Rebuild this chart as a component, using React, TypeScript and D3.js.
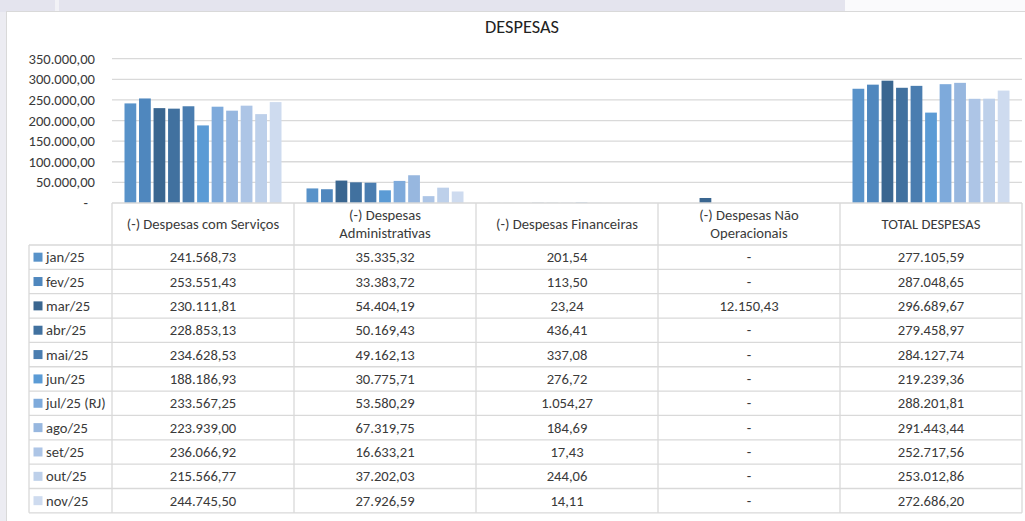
import React from 'react';
import * as d3 from 'd3';

const months = ['jan/25', 'fev/25', 'mar/25', 'abr/25', 'mai/25', 'jun/25', 'jul/25 (RJ)', 'ago/25', 'set/25', 'out/25', 'nov/25'];
const monthColors = ['#5892c9', '#4f87be', '#3a6690', '#41719f', '#4a7db0', '#5b9bd5', '#7eaadb', '#97b7df', '#adc5e6', '#bdd0ea', '#cedbef'];
const categories = ['(-) Despesas com Serviços', '(-) Despesas Administrativas', '(-) Despesas Financeiras', '(-) Despesas Não Operacionais', 'TOTAL DESPESAS'];
const categoryLines = [['(-) Despesas com Serviços'], ['(-) Despesas', 'Administrativas'], ['(-) Despesas Financeiras'], ['(-) Despesas Não', 'Operacionais'], ['TOTAL DESPESAS']];

const servicos = [241568.73, 253551.43, 230111.81, 228853.13, 234628.53, 188186.93, 233567.25, 223939.0, 236066.92, 215566.77, 244745.5];
const administrativas = [35335.32, 33383.72, 54404.19, 50169.43, 49162.13, 30775.71, 53580.29, 67319.75, 16633.21, 37202.03, 27926.59];
const financeiras = [201.54, 113.5, 23.24, 436.41, 337.08, 276.72, 1054.27, 184.69, 17.43, 244.06, 14.11];
const naoOperacionais = [0, 0, 12150.43, 0, 0, 0, 0, 0, 0, 0, 0];
const total = [277105.59, 287048.65, 296689.67, 279458.97, 284127.74, 219239.36, 288201.81, 291443.44, 252717.56, 253012.86, 272686.2];
const seriesByCategory = [servicos, administrativas, financeiras, naoOperacionais, total];

const yTicks = [0, 50000, 100000, 150000, 200000, 250000, 300000, 350000];
const title = 'DESPESAS';

const locale = d3.formatLocale({ decimal: ',', thousands: '.', grouping: [3], currency: ['', ''] });
const fmt2 = locale.format(',.2f');
const fmt = (v: number) => (v === 0 ? '-' : fmt2(v));

export default function App() {
  const W = 1025, H = 521;
  const font = 'Calibri, Carlito, Lato, sans-serif';
  const fs = 14.6;
  const textColor = '#3a3a3a';
  const plotLeft = 112, plotRight = 1022;
  const y0 = 203, yTop = 58.7;
  const headerBottom = 245;
  const rowH = 24.35;
  const legendLeft = 29;
  const gridColor = '#d9d9d9';

  const x = d3.scaleBand<string>().domain(categories).range([plotLeft, plotRight]).padding(0);
  const inner = d3.scaleBand<string>().domain(months).range([12.5, x.bandwidth() - 12.5]).paddingInner(0.19);
  const y = d3.scaleLinear().domain([0, 350000]).range([y0, yTop]);

  const tableBottom = headerBottom + rowH * months.length;
  const colEdges = [plotLeft, ...categories.map((c) => (x(c) as number) + x.bandwidth())];

  return (
    <svg width={W} height={H} style={{ position: 'absolute', left: 0, top: 0 }} fontFamily={font}>
      <rect x={0} y={0} width={W} height={H} fill="#ececf2" />
      <rect x={0} y={0} width={845} height={12} fill="#e4e4ee" />
      <rect x={55} y={0} width={4} height={12} fill="#f2f2f6" />
      <rect x={845} y={0} width={180} height={12} fill="#fafafc" />
      <rect x={6.5} y={11.5} width={W} height={H} fill="#ffffff" stroke="#d9d9d9" strokeWidth={1} />

      <text x={522} y={27} dy="0.35em" textAnchor="middle" fontSize={18.3} fill="#222">{title}</text>

      {yTicks.map((t) => (
        <g key={t}>
          {t > 0 && <line x1={plotLeft} x2={plotRight} y1={y(t)} y2={y(t)} stroke={gridColor} strokeWidth={1.3} />}
          <text x={t === 0 ? 88 : 95} y={y(t)} dy="0.35em" textAnchor="end" fontSize={fs} fill={textColor}>{t === 0 ? '-' : fmt(t)}</text>
        </g>
      ))}

      {categories.map((c, ci) => (
        <g key={c} transform={`translate(${x(c)},0)`}>
          {months.map((m, mi) => {
            const v = seriesByCategory[ci][mi];
            return (
              <rect key={m} x={inner(m)} y={y(v)} width={inner.bandwidth()} height={y0 - y(v)} fill={monthColors[mi]} />
            );
          })}
        </g>
      ))}

      <line x1={plotLeft} x2={plotRight} y1={y0} y2={y0} stroke={gridColor} strokeWidth={1.3} />
      {colEdges.map((e, i) => (
        <line key={'hv' + i} x1={e} x2={e} y1={y0} y2={tableBottom} stroke={gridColor} strokeWidth={1.3} />
      ))}
      <line x1={legendLeft} x2={legendLeft} y1={headerBottom} y2={tableBottom} stroke={gridColor} strokeWidth={1.3} />
      {d3.range(months.length + 1).map((i) => (
        <line key={'rh' + i} x1={legendLeft} x2={plotRight} y1={headerBottom + i * rowH} y2={headerBottom + i * rowH} stroke={gridColor} strokeWidth={1.3} />
      ))}

      {categoryLines.map((lines, ci) => {
        const cx = (x(categories[ci]) as number) + x.bandwidth() / 2;
        const cy = (y0 + headerBottom) / 2;
        const lh = 18;
        return (
          <text key={'h' + ci} x={cx} textAnchor="middle" fontSize={fs} fill={textColor}>
            {lines.map((l, li) => (
              <tspan key={li} x={cx} y={cy + (li - (lines.length - 1) / 2) * lh} dy="0.35em">{l}</tspan>
            ))}
          </text>
        );
      })}

      {months.map((m, mi) => {
        const cy = headerBottom + mi * rowH + rowH / 2;
        return (
          <g key={'row' + m}>
            <rect x={33.5} y={cy - 4.5} width={9} height={9} fill={monthColors[mi]} />
            <text x={46} y={cy} dy="0.35em" fontSize={fs} fill={textColor}>{m}</text>
            {categories.map((c, ci) => (
              <text key={c} x={(x(c) as number) + x.bandwidth() / 2} y={cy} dy="0.35em" textAnchor="middle" fontSize={fs} fill={textColor}>
                {fmt(seriesByCategory[ci][mi])}
              </text>
            ))}
          </g>
        );
      })}
    </svg>
  );
}
